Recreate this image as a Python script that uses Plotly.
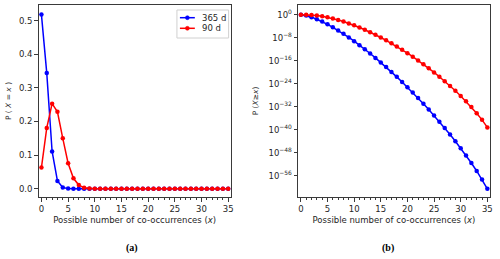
import plotly.graph_objects as go

# ---- data ----
x_vals = list(range(36))

pmf_365 = [0.518, 0.344, 0.111, 0.0231, 0.0035, 0.00041, 0.00004, 0.000003] + [0.0] * 28
pmf_90 = [0.063, 0.181, 0.253, 0.229, 0.150, 0.076, 0.031, 0.011, 0.0031, 0.00076,
          0.00016, 0.00003, 0.000005] + [0.0] * 23

tail_365 = [1.0, 0.482, 0.138, 0.0271, 3.95e-3, 4.53e-4, 4.23e-5, 3.27e-6, 2.15e-7, 1.21e-8,
            5.93e-10, 2.55e-11, 9.62e-13, 3.21e-14, 9.53e-16, 2.52e-17, 5.96e-19, 1.26e-20,
            2.38e-22, 4.03e-24, 6.08e-26, 8.24e-28, 9.91e-30, 1.06e-31, 1.00e-33, 8.36e-36,
            6.10e-38, 3.85e-40, 2.08e-42, 9.51e-45, 3.60e-47, 1.10e-49, 2.60e-52, 4.49e-55,
            5.00e-58, 2.70e-61]
tail_90 = [1.0, 0.936, 0.754, 0.501, 0.273, 0.122, 0.0460, 0.0147, 4.02e-3, 9.52e-4,
           1.97e-4, 3.58e-5, 5.75e-6, 8.24e-7, 1.04e-7, 1.18e-8, 1.20e-9, 1.09e-10,
           8.85e-12, 6.46e-13, 4.21e-14, 2.45e-15, 1.27e-16, 5.86e-18, 2.40e-19, 8.61e-21,
           2.71e-22, 7.38e-24, 1.73e-25, 3.40e-27, 5.58e-29, 7.36e-31, 7.53e-33, 5.61e-35,
           2.70e-37, 6.32e-40]

series_names = ["365 d", "90 d"]
series_colors = ["#0000ff", "#ff0000"]

x_ticks = [0, 5, 10, 15, 20, 25, 30, 35]
left_y_ticks = [0.0, 0.1, 0.2, 0.3, 0.4, 0.5]
left_y_labels = ["0.0", "0.1", "0.2", "0.3", "0.4", "0.5"]
right_y_exps = [0, -8, -16, -24, -32, -40, -48, -56]

W, H = 500, 259
FONT = "DejaVu Sans"
TXT = "#262626"

fig = go.Figure()

for vals, name, col in zip([pmf_365, pmf_90], series_names, series_colors):
    fig.add_trace(go.Scatter(x=x_vals, y=vals, mode="lines+markers", name=name,
                             showlegend=False,
                             line=dict(color=col, width=1.5),
                             marker=dict(color=col, size=4.5, symbol="circle"),
                             xaxis="x", yaxis="y", cliponaxis=False))
for vals, name, col in zip([tail_365, tail_90], series_names, series_colors):
    fig.add_trace(go.Scatter(x=x_vals, y=vals, mode="lines+markers", name=name,
                             showlegend=False,
                             line=dict(color=col, width=1.5),
                             marker=dict(color=col, size=4.5, symbol="circle"),
                             xaxis="x2", yaxis="y2", cliponaxis=False))

def px_x(p):
    return p / W

def px_y(p):
    return 1 - p / H

axis_common = dict(showline=True, mirror=True, linecolor="#3a3a3a", linewidth=1.2,
                   showgrid=False, zeroline=False, ticks="outside", ticklen=3.5,
                   tickwidth=1, tickcolor="#3a3a3a",
                   tickfont=dict(family=FONT, size=8.5, color=TXT))

xaxis_common = dict(axis_common, tickvals=x_ticks, range=[-0.5, 35.45],
                    minor=dict(ticks="outside", ticklen=2, tickwidth=0.8,
                               tickcolor="#3a3a3a", dtick=1, tick0=0),
                    title=dict(text="Possible number of co-occurrences (<i>x</i>)",
                               font=dict(family=FONT, size=8.5, color=TXT), standoff=4))

# ---- compact legend (matplotlib-style) ----
legend_box = dict(x0=178, x1=230, y0=10, y1=38)
legend_rows = [17.7, 28.3]
shapes = [dict(type="rect", xref="paper", yref="paper",
               x0=px_x(legend_box["x0"]), x1=px_x(legend_box["x1"]),
               y0=px_y(legend_box["y1"]), y1=px_y(legend_box["y0"]),
               line=dict(color="#d0d0d0", width=1), fillcolor="rgba(255,255,255,0.85)",
               layer="above")]
annotations = []
for name, col, ry in zip(series_names, series_colors, legend_rows):
    shapes.append(dict(type="line", xref="paper", yref="paper",
                       x0=px_x(181), x1=px_x(196), y0=px_y(ry), y1=px_y(ry),
                       line=dict(color=col, width=1.5), layer="above"))
    shapes.append(dict(type="circle", xref="paper", yref="paper",
                       x0=px_x(186.5), x1=px_x(190.5), y0=px_y(ry + 2), y1=px_y(ry - 2),
                       line=dict(color=col, width=0.5), fillcolor=col, layer="above"))
    annotations.append(dict(text=name, x=px_x(201), y=px_y(ry), xref="paper", yref="paper",
                            xanchor="left", yanchor="middle", showarrow=False,
                            font=dict(family=FONT, size=8.5, color=TXT)))

annotations += [
    dict(text="<b>(a)</b>", x=px_x(133), y=px_y(248), xref="paper", yref="paper",
         xanchor="center", yanchor="middle",
         showarrow=False, font=dict(family="Liberation Serif", size=10, color="black")),
    dict(text="<b>(b)</b>", x=px_x(390), y=px_y(248), xref="paper", yref="paper",
         xanchor="center", yanchor="middle",
         showarrow=False, font=dict(family="Liberation Serif", size=10, color="black")),
]

fig.update_layout(
    width=W, height=H,
    margin=dict(l=0, r=0, t=0, b=0),
    paper_bgcolor="white", plot_bgcolor="white",
    showlegend=False,
    xaxis=dict(xaxis_common, domain=[px_x(39), px_x(232)], anchor="y"),
    yaxis=dict(axis_common, domain=[px_y(197), px_y(5)], anchor="x",
               range=[-0.0245, 0.5465], tickvals=left_y_ticks, ticktext=left_y_labels,
               title=dict(text="P ( <i>X</i> = <i>x</i> )",
                          font=dict(family=FONT, size=7.5, color=TXT), standoff=6)),
    xaxis2=dict(xaxis_common, domain=[px_x(300), px_x(492.7)], anchor="y2"),
    yaxis2=dict(axis_common, domain=[px_y(197), px_y(5)], anchor="x2",
                type="log", range=[-63.4, 3.37],
                tickvals=[10.0 ** e for e in right_y_exps],
                ticktext=["10<sup>%d</sup>" % e if e == 0 else "10<sup>\u2212%d</sup>" % (-e)
                          for e in right_y_exps],
                title=dict(text="P (<i>X</i>\u2265<i>x</i>)",
                           font=dict(family=FONT, size=7.5, color=TXT), standoff=8)),
    shapes=shapes,
    annotations=annotations,
)

fig.write_html("out.html", config={"displayModeBar": False},
               post_script="document.body.style.margin='0';document.body.style.padding='0';")
